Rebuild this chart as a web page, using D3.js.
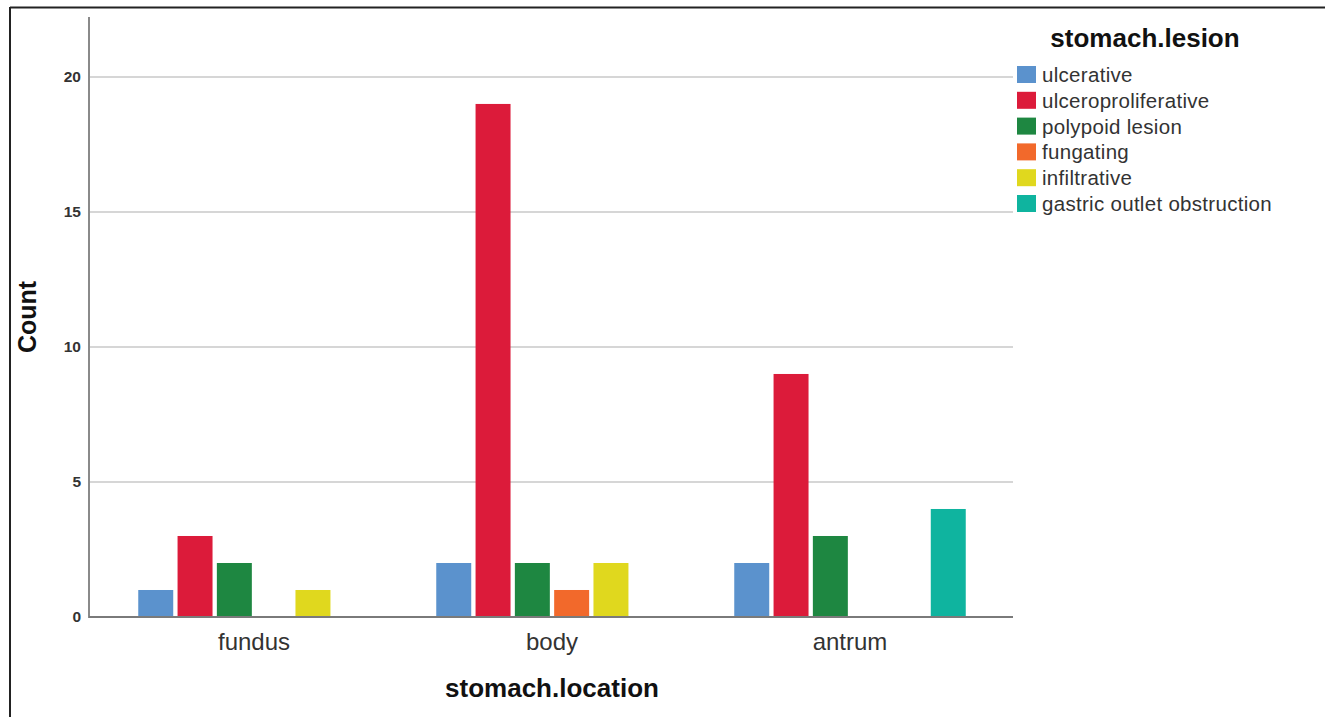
<!DOCTYPE html>
<html><head><meta charset="utf-8">
<script src="https://cdn.jsdelivr.net/npm/d3@7"></script>
<style>body{margin:0;background:#fff}svg{display:block;font-family:"Liberation Sans",Arial,sans-serif}</style>
</head><body>
<svg id="c" width="1325" height="717"></svg>
<script>
const categories = ["fundus", "body", "antrum"];
const lesions = ["ulcerative", "ulceroproliferative", "polypoid lesion", "fungating", "infiltrative", "gastric outlet obstruction"];
const colors = ["#5b92cd", "#dc1b3a", "#1e8741", "#f2692b", "#e0d81e", "#0fb49f"];
const ulcerative = [1, 2, 2];
const ulceroproliferative = [3, 19, 9];
const polypoid = [2, 2, 3];
const fungating = [0, 1, 0];
const infiltrative = [1, 2, 0];
const gastricOutlet = [0, 0, 4];
const yTicks = [0, 5, 10, 15, 20];

const seriesValues = [ulcerative, ulceroproliferative, polypoid, fungating, infiltrative, gastricOutlet];

const svg = d3.select("#c");
// frame
svg.append("line").attr("x1",10).attr("x2",1325).attr("y1",7.5).attr("y2",7.5).attr("stroke","#222").attr("stroke-width",2);
svg.append("line").attr("x1",10).attr("x2",10).attr("y1",7).attr("y2",717).attr("stroke","#222").attr("stroke-width",2);

const pLeft = 89, pRight = 1013, pTop = 17, pBottom = 617;
const groupW = 231.5;
const y = d3.scaleLinear().domain([0, 22.22]).range([pBottom, pTop]);
const x = d3.scaleBand().domain(categories).range([105, 999]).paddingInner(0).paddingOuter(0);
const inner = d3.scaleBand().domain(lesions).range([0, groupW]).paddingInner(0.11).paddingOuter(0);

// gridlines
svg.append("g").selectAll("line").data(yTicks.filter(d=>d>0)).join("line")
  .attr("x1", pLeft).attr("x2", pRight).attr("y1", d=>y(d)).attr("y2", d=>y(d))
  .attr("stroke", "#c8c8c8").attr("stroke-width", 1.5);

// bars
const data = [];
categories.forEach((c, ci) => lesions.forEach((l, li) => {
  const v = seriesValues[li][ci];
  if (v > 0) data.push({c, l, v, li});
}));
svg.append("g").selectAll("rect").data(data).join("rect")
  .attr("x", d => x(d.c) + (x.bandwidth() - groupW) / 2 + inner(d.l))
  .attr("width", inner.bandwidth())
  .attr("y", d => y(d.v))
  .attr("height", d => y(0) - y(d.v))
  .attr("fill", d => colors[d.li]);

// y axis
const yAxis = d3.axisLeft(y).tickValues(yTicks).tickSize(0).tickPadding(8);
const ya = svg.append("g").attr("transform", `translate(${pLeft},0)`).call(yAxis);
ya.select(".domain").remove();
ya.selectAll("text").attr("font-size", 15.5).attr("fill", "#333").attr("font-family", "Liberation Sans, Arial, sans-serif").attr("font-weight", "bold");
svg.append("line").attr("x1", pLeft).attr("x2", pLeft).attr("y1", pTop).attr("y2", pBottom + 1).attr("stroke", "#8a8a8a").attr("stroke-width", 2);

// x axis
const xAxis = d3.axisBottom(x).tickSize(0).tickPadding(16);
const xa = svg.append("g").attr("transform", `translate(0,${pBottom})`).call(xAxis);
xa.select(".domain").remove();
xa.selectAll("text").attr("font-size", 24).attr("fill", "#333").attr("font-family", "Liberation Sans, Arial, sans-serif");
svg.append("line").attr("x1", pLeft).attr("x2", pRight).attr("y1", pBottom).attr("y2", pBottom).attr("stroke", "#7a7a7a").attr("stroke-width", 2);

// axis titles
svg.append("text").attr("transform", `translate(36,${(pTop+pBottom)/2}) rotate(-90)`)
  .attr("text-anchor", "middle").attr("font-size", 25).attr("font-weight", "bold").attr("fill", "#111").text("Count");
svg.append("text").attr("x", 552).attr("y", 697).attr("text-anchor", "middle")
  .attr("font-size", 26).attr("font-weight", "bold").attr("fill", "#111").text("stomach.location");

// legend
svg.append("text").attr("x", 1145).attr("y", 47).attr("text-anchor", "middle")
  .attr("font-size", 26).attr("font-weight", "bold").attr("fill", "#111").text("stomach.lesion");
const lg = svg.append("g").selectAll("g").data(lesions).join("g")
  .attr("transform", (d, i) => `translate(1017,${66 + i * 25.8})`);
lg.append("rect").attr("width", 19).attr("height", 17).attr("fill", (d, i) => colors[i]);
lg.append("text").attr("x", 25).attr("y", 16).attr("font-size", 20.5).attr("letter-spacing", 0.3).attr("fill", "#333").text(d => d);
</script>
</body></html>
